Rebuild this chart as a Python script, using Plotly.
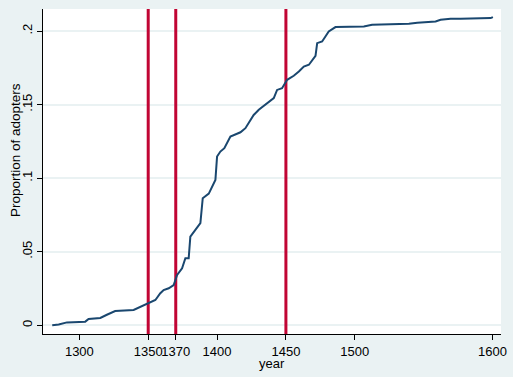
import plotly.graph_objects as go

# Cumulative proportion of adopters by year
years = [1280.3, 1285.0, 1291.0, 1304.3, 1306.7, 1315.2, 1320.0, 1326.0, 1339.4,
         1350.3, 1355.2, 1358.8, 1361.2, 1364.9, 1368.5, 1371.0, 1374.6, 1377.0,
         1379.4, 1380.6, 1384.3, 1387.9, 1389.6, 1394.0, 1398.8, 1400.0, 1402.4,
         1405.3, 1409.7, 1412.1, 1417.0, 1420.6, 1424.2, 1426.6, 1430.3, 1437.5,
         1441.2, 1443.6, 1447.2, 1450.9, 1455.7, 1459.4, 1463.0, 1466.7, 1469.1,
         1471.5, 1472.7, 1476.3, 1478.7, 1481.1, 1486.0, 1506.6, 1512.6, 1532.0,
         1539.3, 1545.4, 1558.7, 1562.3, 1569.6, 1576.9, 1598.7, 1600.3]
proportion = [0.0, 0.0005, 0.002, 0.0025, 0.0043, 0.005, 0.0072, 0.0097, 0.0104,
              0.015, 0.0172, 0.0218, 0.024, 0.0252, 0.0274, 0.0342, 0.0388, 0.0456,
              0.0456, 0.0603, 0.0648, 0.0694, 0.0864, 0.0895, 0.0988, 0.1147, 0.1181,
              0.1204, 0.1283, 0.1294, 0.1312, 0.134, 0.1396, 0.143, 0.1465, 0.152,
              0.1544, 0.160, 0.1612, 0.1669, 0.1696, 0.1725, 0.1759, 0.1771, 0.1805,
              0.1832, 0.1918, 0.1929, 0.1963, 0.1997, 0.2027, 0.2031, 0.2043, 0.2045,
              0.205, 0.2056, 0.2065, 0.2077, 0.2084, 0.2084, 0.2088, 0.2095]

event_years = [1350, 1370, 1450]
x_ticks = [1300, 1350, 1370, 1400, 1450, 1500, 1600]
y_ticks = [0, 0.05, 0.1, 0.15, 0.2]
y_tick_labels = ["0", ".05", ".1", ".15", ".2"]

X_RANGE = [1273.6, 1606.2]
Y_RANGE = [-0.0059, 0.215]

NAVY = "#1A476F"
CRANBERRY = "#C10534"
BG = "#EAF2F3"

fig = go.Figure()

# vertical reference lines (drawn first so the curve sits on top)
for ev in event_years:
    fig.add_trace(go.Scatter(x=[ev, ev], y=Y_RANGE, mode="lines",
                             line=dict(color=CRANBERRY, width=3),
                             showlegend=False, hoverinfo="skip", cliponaxis=True))

fig.add_trace(go.Scatter(x=years, y=proportion, mode="lines",
                         line=dict(color=NAVY, width=2), showlegend=False,
                         hoverinfo="skip"))

fig.update_layout(
    width=513, height=377,
    paper_bgcolor=BG, plot_bgcolor="white",
    margin=dict(l=43, r=12, t=9, b=43, autoexpand=False),
    font=dict(family="Liberation Sans, Arial, sans-serif", size=13, color="black"),
    showlegend=False,
    annotations=[
        dict(text="year", xref="paper", yref="paper", x=0.5, y=0,
             xanchor="center", yanchor="middle", yshift=-29, showarrow=False,
             font=dict(size=13)),
        dict(text="Proportion of adopters", xref="paper", yref="paper", x=0,
             y=(334 - 150) / 325, xanchor="center", yanchor="middle",
             xshift=-28, textangle=-90, showarrow=False, font=dict(size=13.5)),
    ],
)
fig.update_xaxes(
    range=X_RANGE, tickvals=x_ticks, ticktext=[str(t) for t in x_ticks],
    tickangle=0, automargin=False,
    showgrid=False, zeroline=False, showline=True, linecolor="black", linewidth=1,
    ticks="outside", ticklen=5, tickcolor="black",
)
fig.update_yaxes(
    range=Y_RANGE, tickvals=y_ticks, ticktext=y_tick_labels,
    tickangle=-90, automargin=False,
    showgrid=True, gridcolor=BG, gridwidth=1.5, zeroline=False,
    showline=True, linecolor="black", linewidth=1,
    ticks="outside", ticklen=5, tickcolor="black",
)

fig.write_html("out.html", config={"displayModeBar": False},
               post_script="document.body.style.margin='0';document.body.style.overflow='hidden';")
